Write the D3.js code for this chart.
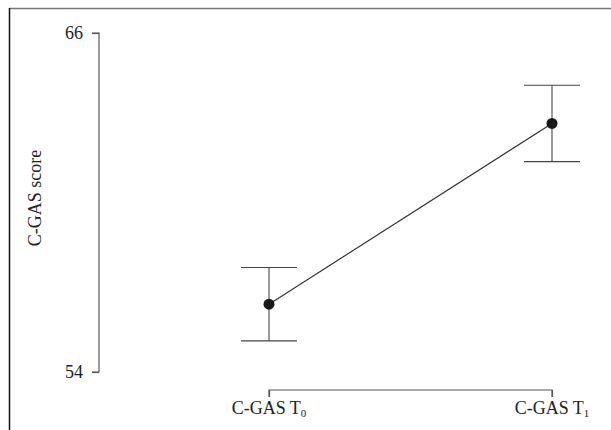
<!DOCTYPE html>
<html>
<head>
<script src="https://d3js.org/d3.v7.min.js"></script>
<style>
body { margin: 0; background: #fff; }
text { font-family: "Liberation Serif", "DejaVu Serif", serif; fill: #222; }
</style>
</head>
<body>
<div id="chart"></div>
<script>
// data
var groups = ["T0", "T1"];
var means  = [56.4, 62.8];
var upper  = [57.7, 64.15];
var lower  = [55.1, 61.45];
var yTicks = [54, 66];

var W = 611, H = 430;

var svg = d3.select("#chart").append("svg")
    .attr("width", W)
    .attr("height", H);

// frame: grey top rule, black left rule
svg.append("line")
    .attr("x1", 9).attr("x2", W).attr("y1", 8.5).attr("y2", 8.5)
    .attr("stroke", "#777").attr("stroke-width", 1.5);
svg.append("line")
    .attr("x1", 9.5).attr("x2", 9.5).attr("y1", 8).attr("y2", H)
    .attr("stroke", "#111").attr("stroke-width", 1.5);

var x = d3.scalePoint().domain(groups).range([269, 552]);
var y = d3.scaleLinear().domain([54, 66]).range([372, 33]);

var g = svg.append("g");

// y axis
var yAxis = g.append("g")
    .attr("transform", "translate(99,0)")
    .call(d3.axisLeft(y).tickValues(yTicks).tickSize(7).tickPadding(9).tickFormat(d3.format("d")));
yAxis.attr("font-family", null).attr("font-size", null);
yAxis.selectAll("path, line").attr("stroke", "#555").attr("stroke-width", 1.2);
yAxis.select(".domain").attr("d", "M-7," + y(54) + "H0V" + y(66) + "H-7");
yAxis.selectAll("text").style("font-size", "18px").attr("fill", "#222");

// x axis
var xAxis = g.append("g")
    .attr("transform", "translate(0,390)")
    .call(d3.axisBottom(x).tickSize(7).tickFormat(""));
xAxis.selectAll("path, line").attr("stroke", "#555").attr("stroke-width", 1.2);
xAxis.select(".domain").attr("d", "M" + x("T0") + ",7V0H" + x("T1") + "V7");

// x labels with subscripts
groups.forEach(function (d, i) {
  var t = g.append("text")
      .attr("x", x(d))
      .attr("y", 414)
      .attr("text-anchor", "middle")
      .style("font-size", "18px");
  t.append("tspan").text("C-GAS T");
  t.append("tspan").text(i).attr("dy", 3).style("font-size", "11px");
});

// y title
svg.append("text")
    .attr("transform", "translate(41,198) rotate(-90)")
    .attr("text-anchor", "middle")
    .style("font-size", "18px")
    .text("C-GAS score");

// connecting line
g.append("path")
    .datum(groups.map(function (d, i) { return [x(d), y(means[i])]; }))
    .attr("d", d3.line())
    .attr("fill", "none")
    .attr("stroke", "#333")
    .attr("stroke-width", 1.2);

// error bars
groups.forEach(function (d, i) {
  var cx = x(d);
  g.append("line")
      .attr("x1", cx).attr("x2", cx)
      .attr("y1", y(upper[i])).attr("y2", y(lower[i]))
      .attr("stroke", "#555").attr("stroke-width", 1.2);
  [upper[i], lower[i]].forEach(function (v) {
    g.append("line")
        .attr("x1", cx - 28).attr("x2", cx + 28)
        .attr("y1", y(v)).attr("y2", y(v))
        .attr("stroke", "#444").attr("stroke-width", 1.2);
  });
});

// mean points
g.selectAll("circle")
    .data(means)
    .enter().append("circle")
    .attr("cx", function (d, i) { return x(groups[i]); })
    .attr("cy", function (d) { return y(d); })
    .attr("r", 5.5)
    .attr("fill", "#1a1a1a");
</script>
</body>
</html>
